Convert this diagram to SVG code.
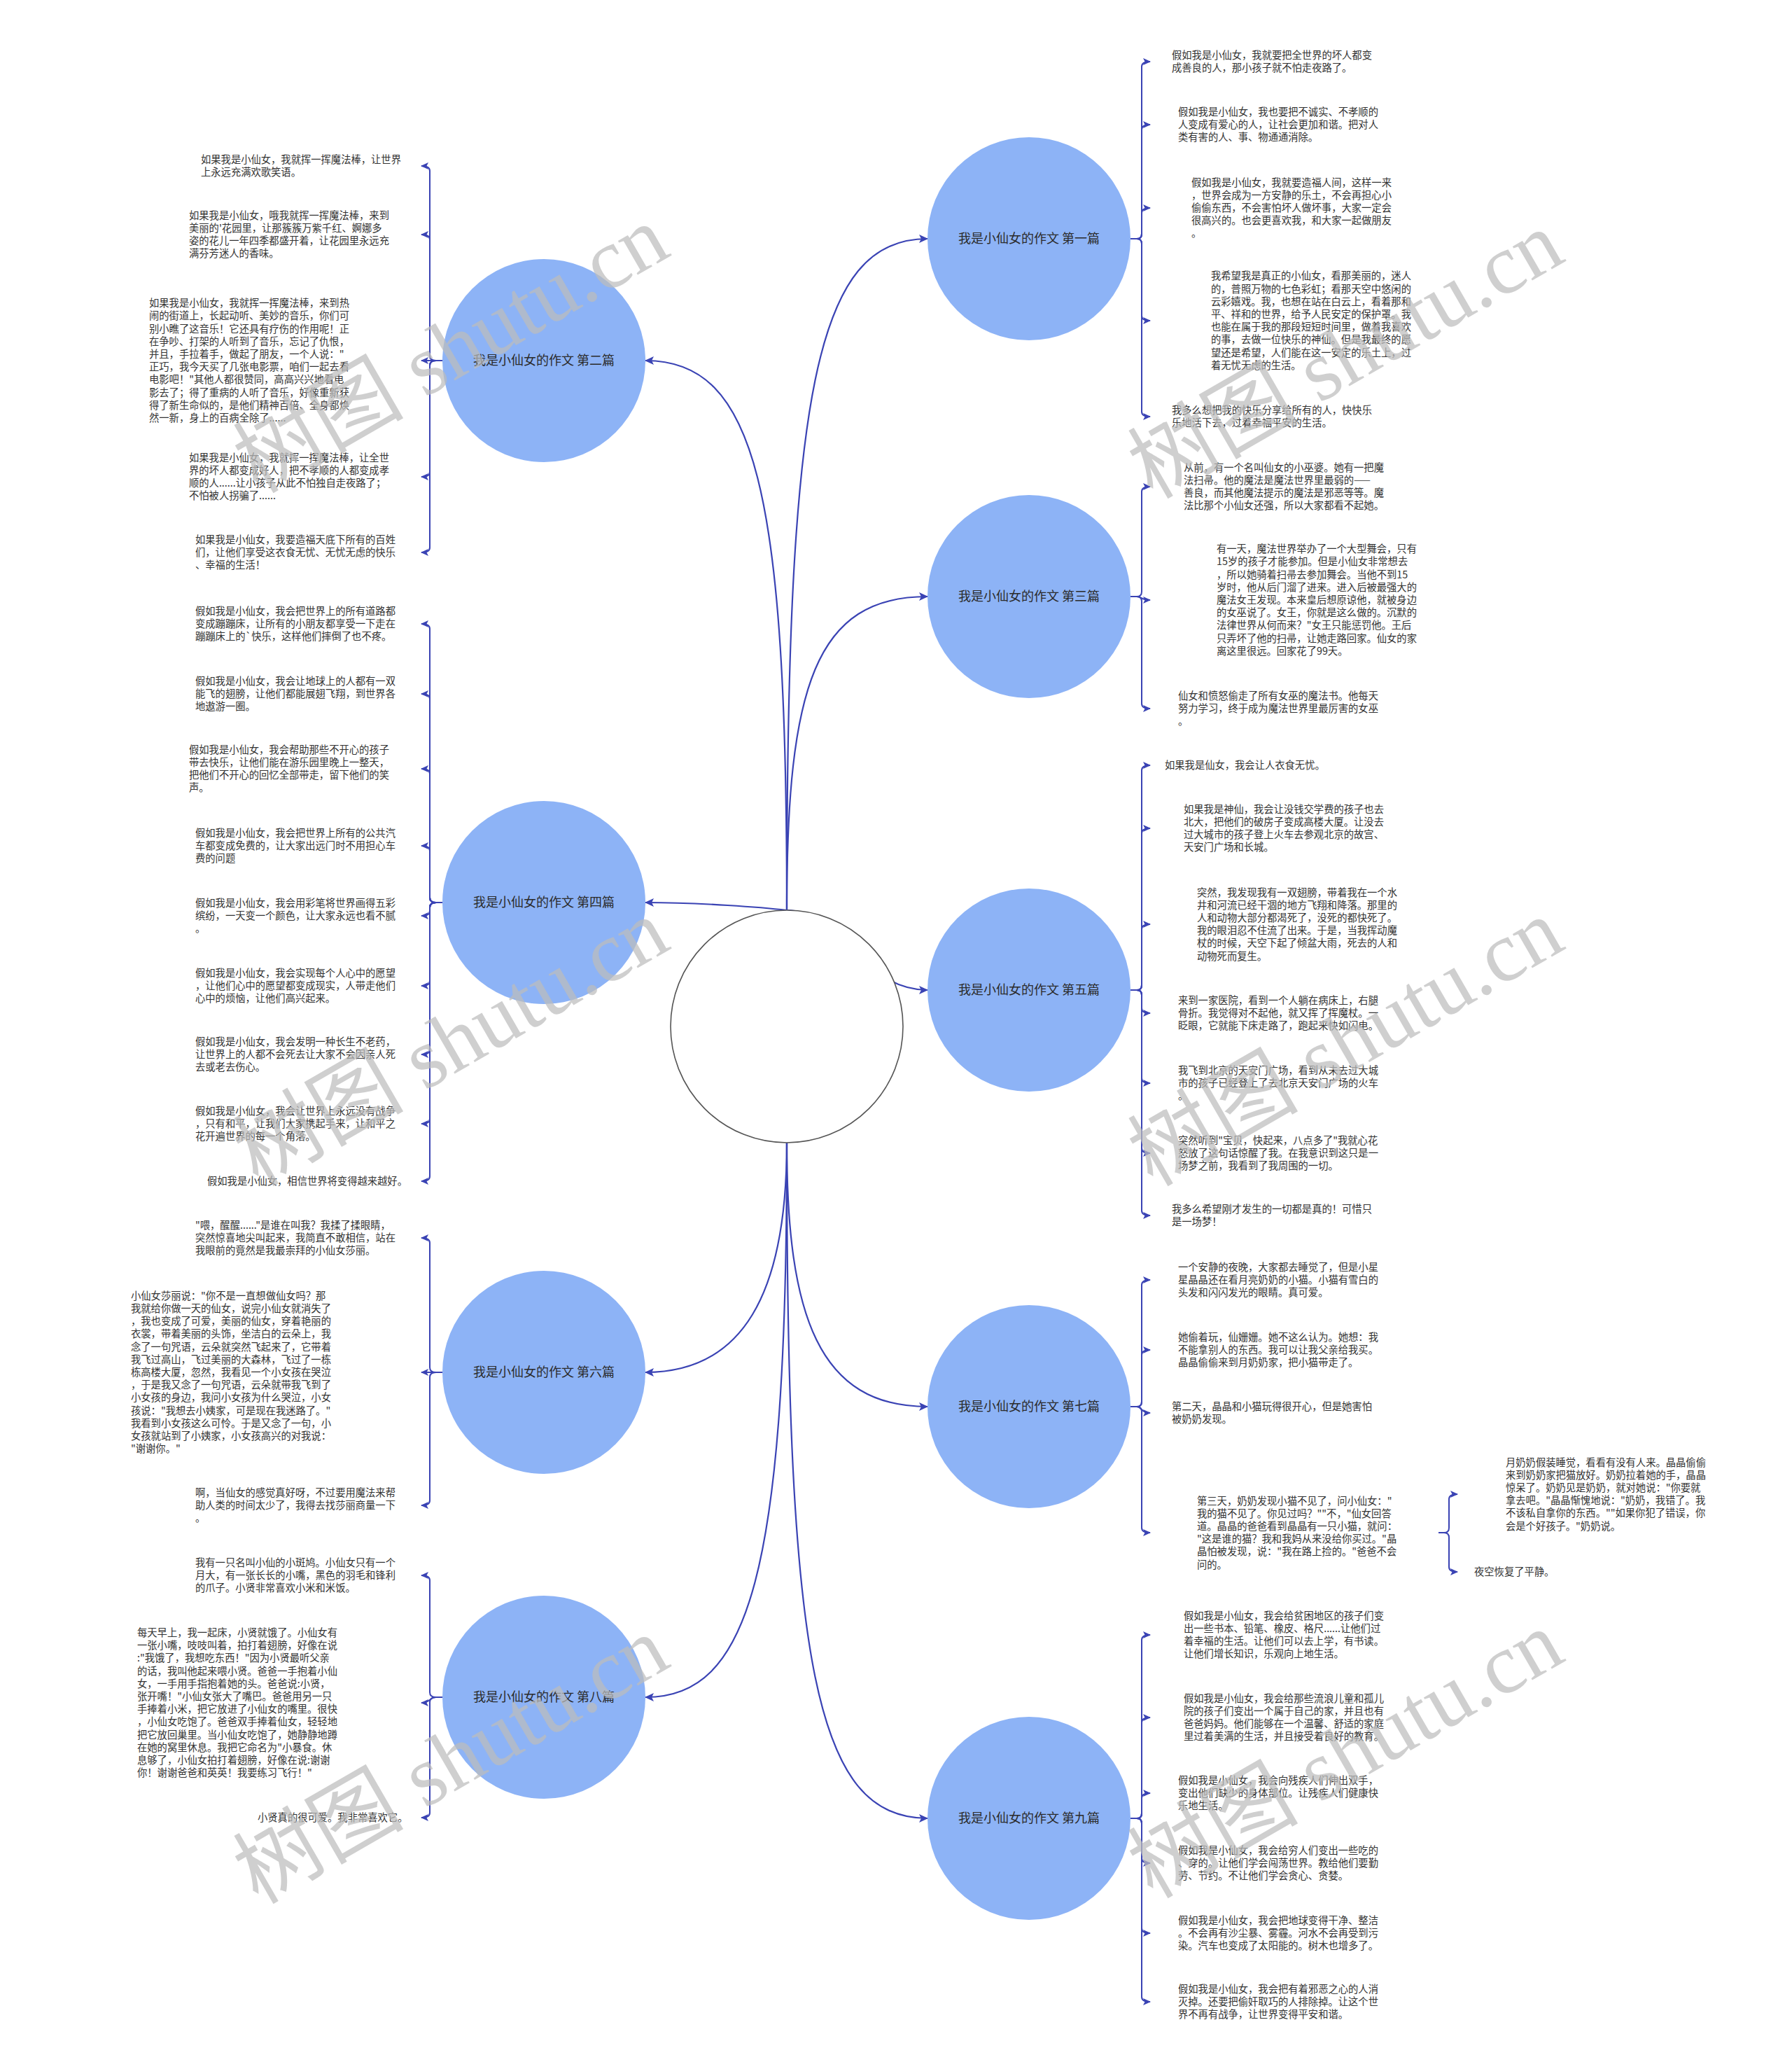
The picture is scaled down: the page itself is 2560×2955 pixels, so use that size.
<svg xmlns="http://www.w3.org/2000/svg" width="2560" height="2955" viewBox="0 0 2560 2955">
<defs>
<marker id="ah" markerUnits="userSpaceOnUse" markerWidth="14" markerHeight="12" refX="12" refY="6" orient="auto"><path d="M0,0 L13,6 L0,12 L3,6 z" fill="#3a43b4"/></marker>
<marker id="as" markerUnits="userSpaceOnUse" markerWidth="12" markerHeight="10" refX="10" refY="5" orient="auto"><path d="M0,0 L11,5 L0,10 L2.5,5 z" fill="#3a43b4"/></marker>
</defs>
<style>
.c{fill:none;stroke:#3a43b4;stroke-width:2.2;marker-end:url(#ah)}
.b{fill:none;stroke:#3a43b4;stroke-width:2;marker-end:url(#as)}
.n{fill:#8db3f6}
.nl{font-family:"Noto Sans CJK SC","Noto Sans",sans-serif;font-size:18px;fill:#2b2b2b;text-anchor:middle}
.t{font-family:"Noto Sans CJK SC","Noto Sans",sans-serif;font-size:14.3px;fill:#333}
.wm{font-family:"Liberation Serif","Noto Sans CJK SC",serif;font-size:122px;fill:#bdbdbd;opacity:0.72;text-anchor:middle}
</style>
<rect width="2560" height="2955" fill="#ffffff"/>
<g id="connectors">
<path class="c" d="M1124,1300 C1124,560 1165,341 1325,341"/>
<path class="c" d="M1124,1300 C1124,700 1080,515 922,515"/>
<path class="c" d="M1124,1300 C1124,980 1165,852 1325,852"/>
<path class="c" d="M1124,1300 C1090,1296 1000,1289 922,1289"/>
<path class="c" d="M1124,1300 C1200,1300 1230,1414 1325,1414"/>
<path class="c" d="M1124,1632 C1124,1850 1060,1960 922,1960"/>
<path class="c" d="M1124,1632 C1124,1880 1170,2009 1325,2009"/>
<path class="c" d="M1124,1632 C1124,2250 1070,2424 922,2424"/>
<path class="c" d="M1124,1632 C1124,2380 1165,2597 1325,2597"/>
<path class="b" d="M1615,341H1624Q1631,341 1631,334V95Q1631,88 1643,88"/>
<path class="b" d="M1615,341H1624Q1631,341 1631,334V185Q1631,178 1643,178"/>
<path class="b" d="M1615,341H1624Q1631,341 1631,334V304Q1631,297 1643,297"/>
<path class="b" d="M1615,341H1624Q1631,341 1631,348V451Q1631,458 1643,458"/>
<path class="b" d="M1615,341H1624Q1631,341 1631,348V588Q1631,595 1643,595"/>
<path class="b" d="M1615,852H1624Q1631,852 1631,845V702Q1631,695 1643,695"/>
<path class="b" d="M1615,852H1624C1631,852 1630,857 1643,857"/>
<path class="b" d="M1615,852H1624Q1631,852 1631,859V1005Q1631,1012 1643,1012"/>
<path class="b" d="M1615,1414H1624Q1631,1414 1631,1407V1100Q1631,1093 1643,1093"/>
<path class="b" d="M1615,1414H1624Q1631,1414 1631,1407V1190Q1631,1183 1643,1183"/>
<path class="b" d="M1615,1414H1624Q1631,1414 1631,1407V1327Q1631,1320 1643,1320"/>
<path class="b" d="M1615,1414H1624Q1631,1414 1631,1421V1440Q1631,1447 1643,1447"/>
<path class="b" d="M1615,1414H1624Q1631,1414 1631,1421V1540Q1631,1547 1643,1547"/>
<path class="b" d="M1615,1414H1624Q1631,1414 1631,1421V1640Q1631,1647 1643,1647"/>
<path class="b" d="M1615,1414H1624Q1631,1414 1631,1421V1729Q1631,1736 1643,1736"/>
<path class="b" d="M1615,2009H1624Q1631,2009 1631,2002V1835Q1631,1828 1643,1828"/>
<path class="b" d="M1615,2009H1624Q1631,2009 1631,2002V1935Q1631,1928 1643,1928"/>
<path class="b" d="M1615,2009H1624C1631,2009 1630,2018 1643,2018"/>
<path class="b" d="M1615,2009H1624Q1631,2009 1631,2016V2182Q1631,2189 1643,2189"/>
<path class="b" d="M2055,2189H2063Q2070,2189 2070,2182V2141Q2070,2134 2082,2134"/>
<path class="b" d="M2055,2189H2063Q2070,2189 2070,2196V2238Q2070,2245 2082,2245"/>
<path class="b" d="M1615,2597H1624Q1631,2597 1631,2590V2342Q1631,2335 1643,2335"/>
<path class="b" d="M1615,2597H1624Q1631,2597 1631,2590V2460Q1631,2453 1643,2453"/>
<path class="b" d="M1615,2597H1624Q1631,2597 1631,2590V2568Q1631,2561 1643,2561"/>
<path class="b" d="M1615,2597H1624Q1631,2597 1631,2604V2654Q1631,2661 1643,2661"/>
<path class="b" d="M1615,2597H1624Q1631,2597 1631,2604V2754Q1631,2761 1643,2761"/>
<path class="b" d="M1615,2597H1624Q1631,2597 1631,2604V2852Q1631,2859 1643,2859"/>
<path class="b" d="M632,515H623Q614,515 614,508V244Q614,237 602,237"/>
<path class="b" d="M632,515H623Q614,515 614,508V342Q614,335 602,335"/>
<path class="b" d="M632,515H602"/>
<path class="b" d="M632,515H623Q614,515 614,522V674Q614,681 602,681"/>
<path class="b" d="M632,515H623Q614,515 614,522V782Q614,789 602,789"/>
<path class="b" d="M632,1289H623Q614,1289 614,1282V898Q614,891 602,891"/>
<path class="b" d="M632,1289H623Q614,1289 614,1282V998Q614,991 602,991"/>
<path class="b" d="M632,1289H623Q614,1289 614,1282V1105Q614,1098 602,1098"/>
<path class="b" d="M632,1289H623Q614,1289 614,1282V1215Q614,1208 602,1208"/>
<path class="b" d="M632,1289H623Q614,1289 614,1296V1301Q614,1308 602,1308"/>
<path class="b" d="M632,1289H623Q614,1289 614,1296V1401Q614,1408 602,1408"/>
<path class="b" d="M632,1289H623Q614,1289 614,1296V1499Q614,1506 602,1506"/>
<path class="b" d="M632,1289H623Q614,1289 614,1296V1598Q614,1605 602,1605"/>
<path class="b" d="M632,1289H623Q614,1289 614,1296V1680Q614,1687 602,1687"/>
<path class="b" d="M632,1960H623Q614,1960 614,1953V1775Q614,1768 602,1768"/>
<path class="b" d="M632,1960H602"/>
<path class="b" d="M632,1960H623Q614,1960 614,1967V2143Q614,2150 602,2150"/>
<path class="b" d="M632,2424H623Q614,2424 614,2417V2257Q614,2250 602,2250"/>
<path class="b" d="M632,2424H622C614,2424 615,2432 602,2432"/>
<path class="b" d="M632,2424H623Q614,2424 614,2431V2589Q614,2596 602,2596"/>
</g>
<g id="center"><circle cx="1124" cy="1466" r="166" fill="#ffffff" stroke="#555555" stroke-width="1.6"/></g>
<g id="n1"><circle class="n" cx="1470" cy="341" r="145"/><text class="nl" x="1470" y="347">我是小仙女的作文 第一篇</text></g>
<g id="n2"><circle class="n" cx="777" cy="515" r="145"/><text class="nl" x="777" y="521">我是小仙女的作文 第二篇</text></g>
<g id="n3"><circle class="n" cx="1470" cy="852" r="145"/><text class="nl" x="1470" y="858">我是小仙女的作文 第三篇</text></g>
<g id="n4"><circle class="n" cx="777" cy="1289" r="145"/><text class="nl" x="777" y="1295">我是小仙女的作文 第四篇</text></g>
<g id="n5"><circle class="n" cx="1470" cy="1414" r="145"/><text class="nl" x="1470" y="1420">我是小仙女的作文 第五篇</text></g>
<g id="n6"><circle class="n" cx="777" cy="1960" r="145"/><text class="nl" x="777" y="1966">我是小仙女的作文 第六篇</text></g>
<g id="n7"><circle class="n" cx="1470" cy="2009" r="145"/><text class="nl" x="1470" y="2015">我是小仙女的作文 第七篇</text></g>
<g id="n8"><circle class="n" cx="777" cy="2424" r="145"/><text class="nl" x="777" y="2430">我是小仙女的作文 第八篇</text></g>
<g id="n9"><circle class="n" cx="1470" cy="2597" r="145"/><text class="nl" x="1470" y="2603">我是小仙女的作文 第九篇</text></g>
<g id="texts1">
<text class="t" y="83.9"><tspan x="1674">假如我是小仙女，我就要把全世界的坏人都变</tspan><tspan x="1674" dy="18.2">成善良的人，那小孩子就不怕走夜路了。</tspan></text>
<text class="t" y="164.8"><tspan x="1683">假如我是小仙女，我也要把不诚实、不孝顺的</tspan><tspan x="1683" dy="18.2">人变成有爱心的人，让社会更加和谐。把对人</tspan><tspan x="1683" dy="18.2">类有害的人、事、物通通消除。</tspan></text>
<text class="t" y="265.6"><tspan x="1702">假如我是小仙女，我就要造福人间，这样一来</tspan><tspan x="1702" dy="18.2">，世界会成为一方安静的乐土，不会再担心小</tspan><tspan x="1702" dy="18.2">偷偷东西，不会害怕坏人做坏事，大家一定会</tspan><tspan x="1702" dy="18.2">很高兴的。也会更喜欢我，和大家一起做朋友</tspan><tspan x="1702" dy="18.2">。</tspan></text>
<text class="t" y="399.3"><tspan x="1730">我希望我是真正的小仙女，看那美丽的，迷人</tspan><tspan x="1730" dy="18.2">的，普照万物的七色彩虹；看那天空中悠闲的</tspan><tspan x="1730" dy="18.2">云彩嬉戏。我，也想在站在白云上，看着那和</tspan><tspan x="1730" dy="18.2">平、祥和的世界，给予人民安定的保护罩。我</tspan><tspan x="1730" dy="18.2">也能在属于我的那段短短时间里，做着我喜欢</tspan><tspan x="1730" dy="18.2">的事，去做一位快乐的神仙。但是我最终的愿</tspan><tspan x="1730" dy="18.2">望还是希望，人们能在这一安定的乐土上，过</tspan><tspan x="1730" dy="18.2">着无忧无虑的生活。</tspan></text>
<text class="t" y="590.9"><tspan x="1674">我多么想把我的快乐分享给所有的人，快快乐</tspan><tspan x="1674" dy="18.2">乐地活下去，过着幸福平安的生活。</tspan></text>
</g>
<g id="texts3">
<text class="t" y="672.7"><tspan x="1691">从前，有一个名叫仙女的小巫婆。她有一把魔</tspan><tspan x="1691" dy="18.2">法扫帚。他的魔法是魔法世界里最弱的——</tspan><tspan x="1691" dy="18.2">善良，而其他魔法提示的魔法是邪恶等等。魔</tspan><tspan x="1691" dy="18.2">法比那个小仙女还强，所以大家都看不起她。</tspan></text>
<text class="t" y="789.2"><tspan x="1738">有一天，魔法世界举办了一个大型舞会，只有</tspan><tspan x="1738" dy="18.2">15岁的孩子才能参加。但是小仙女非常想去</tspan><tspan x="1738" dy="18.2">，所以她骑着扫帚去参加舞会。当他不到15</tspan><tspan x="1738" dy="18.2">岁时，他从后门溜了进来。进入后被最强大的</tspan><tspan x="1738" dy="18.2">魔法女王发现。本来皇后想原谅他，就被身边</tspan><tspan x="1738" dy="18.2">的女巫说了。女王，你就是这么做的。沉默的</tspan><tspan x="1738" dy="18.2">法律世界从何而来？"女王只能惩罚他。王后</tspan><tspan x="1738" dy="18.2">只弄坏了他的扫帚，让她走路回家。仙女的家</tspan><tspan x="1738" dy="18.2">离这里很远。回家花了99天。</tspan></text>
<text class="t" y="998.8"><tspan x="1683">仙女和愤怒偷走了所有女巫的魔法书。他每天</tspan><tspan x="1683" dy="18.2">努力学习，终于成为魔法世界里最厉害的女巫</tspan><tspan x="1683" dy="18.2">。</tspan></text>
</g>
<g id="texts5">
<text class="t" x="1664" y="1098">如果我是仙女，我会让人衣食无忧。</text>
<text class="t" y="1160.7"><tspan x="1691">如果我是神仙，我会让没钱交学费的孩子也去</tspan><tspan x="1691" dy="18.2">北大，把他们的破房子变成高楼大厦。让没去</tspan><tspan x="1691" dy="18.2">过大城市的孩子登上火车去参观北京的故宫、</tspan><tspan x="1691" dy="18.2">天安门广场和长城。</tspan></text>
<text class="t" y="1279.5"><tspan x="1710">突然，我发现我有一双翅膀，带着我在一个水</tspan><tspan x="1710" dy="18.2">井和河流已经干涸的地方飞翔和降落。那里的</tspan><tspan x="1710" dy="18.2">人和动物大部分都渴死了，没死的都快死了。</tspan><tspan x="1710" dy="18.2">我的眼泪忍不住流了出来。于是，当我挥动魔</tspan><tspan x="1710" dy="18.2">杖的时候，天空下起了倾盆大雨，死去的人和</tspan><tspan x="1710" dy="18.2">动物死而复生。</tspan></text>
<text class="t" y="1433.8"><tspan x="1683">来到一家医院，看到一个人躺在病床上，右腿</tspan><tspan x="1683" dy="18.2">骨折。我觉得对不起他，就又挥了挥魔杖。一</tspan><tspan x="1683" dy="18.2">眨眼，它就能下床走路了，跑起来快如闪电。</tspan></text>
<text class="t" y="1533.8"><tspan x="1683">我飞到北京的天安门广场，看到从未去过大城</tspan><tspan x="1683" dy="18.2">市的孩子已经登上了去北京天安门广场的火车</tspan><tspan x="1683" dy="18.2">。</tspan></text>
<text class="t" y="1633.8"><tspan x="1683">突然听到"宝贝，快起来，八点多了"我就心花</tspan><tspan x="1683" dy="18.2">怒放了这句话惊醒了我。在我意识到这只是一</tspan><tspan x="1683" dy="18.2">场梦之前，我看到了我周围的一切。</tspan></text>
<text class="t" y="1731.9"><tspan x="1674">我多么希望刚才发生的一切都是真的！可惜只</tspan><tspan x="1674" dy="18.2">是一场梦！</tspan></text>
</g>
<g id="texts7">
<text class="t" y="1814.8"><tspan x="1683">一个安静的夜晚，大家都去睡觉了，但是小星</tspan><tspan x="1683" dy="18.2">星晶晶还在看月亮奶奶的小猫。小猫有雪白的</tspan><tspan x="1683" dy="18.2">头发和闪闪发光的眼睛。真可爱。</tspan></text>
<text class="t" y="1914.8"><tspan x="1683">她偷着玩，仙姗姗。她不这么认为。她想：我</tspan><tspan x="1683" dy="18.2">不能拿别人的东西。我可以让我父亲给我买。</tspan><tspan x="1683" dy="18.2">晶晶偷偷来到月奶奶家，把小猫带走了。</tspan></text>
<text class="t" y="2013.9"><tspan x="1674">第二天，晶晶和小猫玩得很开心，但是她害怕</tspan><tspan x="1674" dy="18.2">被奶奶发现。</tspan></text>
<text class="t" y="2148.5"><tspan x="1710">第三天，奶奶发现小猫不见了，问小仙女："</tspan><tspan x="1710" dy="18.2">我的猫不见了。你见过吗？""不，"仙女回答</tspan><tspan x="1710" dy="18.2">道。晶晶的爸爸看到晶晶有一只小猫，就问：</tspan><tspan x="1710" dy="18.2">"这是谁的猫？我和我妈从来没给你买过。"晶</tspan><tspan x="1710" dy="18.2">晶怕被发现，说："我在路上捡的。"爸爸不会</tspan><tspan x="1710" dy="18.2">问的。</tspan></text>
<text class="t" y="2093.5"><tspan x="2151">月奶奶假装睡觉，看看有没有人来。晶晶偷偷</tspan><tspan x="2151" dy="18.2">来到奶奶家把猫放好。奶奶拉着她的手，晶晶</tspan><tspan x="2151" dy="18.2">惊呆了。奶奶见是奶奶，就对她说："你要就</tspan><tspan x="2151" dy="18.2">拿去吧。"晶晶惭愧地说："奶奶，我错了。我</tspan><tspan x="2151" dy="18.2">不该私自拿你的东西。""如果你犯了错误，你</tspan><tspan x="2151" dy="18.2">会是个好孩子。"奶奶说。</tspan></text>
<text class="t" x="2106" y="2250">夜空恢复了平静。</text>
</g>
<g id="texts9">
<text class="t" y="2312.7"><tspan x="1691">假如我是小仙女，我会给贫困地区的孩子们变</tspan><tspan x="1691" dy="18.2">出一些书本、铅笔、橡皮、格尺......让他们过</tspan><tspan x="1691" dy="18.2">着幸福的生活。让他们可以去上学，有书读。</tspan><tspan x="1691" dy="18.2">让他们增长知识，乐观向上地生活。</tspan></text>
<text class="t" y="2430.7"><tspan x="1691">假如我是小仙女，我会给那些流浪儿童和孤儿</tspan><tspan x="1691" dy="18.2">院的孩子们变出一个属于自己的家，并且也有</tspan><tspan x="1691" dy="18.2">爸爸妈妈。他们能够在一个温馨、舒适的家庭</tspan><tspan x="1691" dy="18.2">里过着美满的生活，并且接受着良好的教育。</tspan></text>
<text class="t" y="2547.8"><tspan x="1683">假如我是小仙女，我会向残疾人们伸出双手，</tspan><tspan x="1683" dy="18.2">变出他们缺少的身体部位。让残疾人们健康快</tspan><tspan x="1683" dy="18.2">乐地生活。</tspan></text>
<text class="t" y="2647.8"><tspan x="1683">假如我是小仙女，我会给穷人们变出一些吃的</tspan><tspan x="1683" dy="18.2">、穿的。让他们学会闯荡世界。教给他们要勤</tspan><tspan x="1683" dy="18.2">劳、节约。不让他们学会贪心、贪婪。</tspan></text>
<text class="t" y="2747.8"><tspan x="1683">假如我是小仙女，我会把地球变得干净、整洁</tspan><tspan x="1683" dy="18.2">。不会再有沙尘暴、雾霾。河水不会再受到污</tspan><tspan x="1683" dy="18.2">染。汽车也变成了太阳能的。树木也增多了。</tspan></text>
<text class="t" y="2845.8"><tspan x="1683">假如我是小仙女，我会把有着邪恶之心的人消</tspan><tspan x="1683" dy="18.2">灭掉。还要把偷奸取巧的人排除掉。让这个世</tspan><tspan x="1683" dy="18.2">界不再有战争，让世界变得平安和谐。</tspan></text>
</g>
<g id="texts2">
<text class="t" y="232.9"><tspan x="287">如果我是小仙女，我就挥一挥魔法棒，让世界</tspan><tspan x="287" dy="18.2">上永远充满欢歌笑语。</tspan></text>
<text class="t" y="312.7"><tspan x="270">如果我是小仙女，哦我就挥一挥魔法棒，来到</tspan><tspan x="270" dy="18.2">美丽的'花园里，让那簇簇万紫千红、婀娜多</tspan><tspan x="270" dy="18.2">姿的花儿一年四季都盛开着，让花园里永远充</tspan><tspan x="270" dy="18.2">满芬芳迷人的香味。</tspan></text>
<text class="t" y="438.1"><tspan x="213">如果我是小仙女，我就挥一挥魔法棒，来到热</tspan><tspan x="213" dy="18.2">闹的街道上，长起动听、美妙的音乐，你们可</tspan><tspan x="213" dy="18.2">别小瞧了这音乐！它还具有疗伤的作用呢！正</tspan><tspan x="213" dy="18.2">在争吵、打架的人听到了音乐，忘记了仇恨，</tspan><tspan x="213" dy="18.2">并且，手拉着手，做起了朋友，一个人说："</tspan><tspan x="213" dy="18.2">正巧，我今天买了几张电影票，咱们一起去看</tspan><tspan x="213" dy="18.2">电影吧！"其他人都很赞同，高高兴兴地看电</tspan><tspan x="213" dy="18.2">影去了；得了重病的人听了音乐，好像重新获</tspan><tspan x="213" dy="18.2">得了新生命似的，是他们精神百倍、全身都焕</tspan><tspan x="213" dy="18.2">然一新，身上的百病全除了......</tspan></text>
<text class="t" y="658.7"><tspan x="270">如果我是小仙女，我就挥一挥魔法棒，让全世</tspan><tspan x="270" dy="18.2">界的坏人都变成好人，把不孝顺的人都变成孝</tspan><tspan x="270" dy="18.2">顺的人......让小孩子从此不怕独自走夜路了；</tspan><tspan x="270" dy="18.2">不怕被人拐骗了......</tspan></text>
<text class="t" y="775.8"><tspan x="279">如果我是小仙女，我要造福天底下所有的百姓</tspan><tspan x="279" dy="18.2">们，让他们享受这衣食无忧、无忧无虑的快乐</tspan><tspan x="279" dy="18.2">、幸福的生活！</tspan></text>
</g>
<g id="texts4">
<text class="t" y="877.8"><tspan x="279">假如我是小仙女，我会把世界上的所有道路都</tspan><tspan x="279" dy="18.2">变成蹦蹦床，让所有的小朋友都享受一下走在</tspan><tspan x="279" dy="18.2">蹦蹦床上的`快乐，这样他们摔倒了也不疼。</tspan></text>
<text class="t" y="977.8"><tspan x="279">假如我是小仙女，我会让地球上的人都有一双</tspan><tspan x="279" dy="18.2">能飞的翅膀，让他们都能展翅飞翔，到世界各</tspan><tspan x="279" dy="18.2">地遨游一圈。</tspan></text>
<text class="t" y="1075.7"><tspan x="270">假如我是小仙女，我会帮助那些不开心的孩子</tspan><tspan x="270" dy="18.2">带去快乐，让他们能在游乐园里晚上一整天，</tspan><tspan x="270" dy="18.2">把他们不开心的回忆全部带走，留下他们的笑</tspan><tspan x="270" dy="18.2">声。</tspan></text>
<text class="t" y="1194.8"><tspan x="279">假如我是小仙女，我会把世界上所有的公共汽</tspan><tspan x="279" dy="18.2">车都变成免费的，让大家出远门时不用担心车</tspan><tspan x="279" dy="18.2">费的问题</tspan></text>
<text class="t" y="1294.8"><tspan x="279">假如我是小仙女，我会用彩笔将世界画得五彩</tspan><tspan x="279" dy="18.2">缤纷，一天变一个颜色，让大家永远也看不腻</tspan><tspan x="279" dy="18.2">。</tspan></text>
<text class="t" y="1394.8"><tspan x="279">假如我是小仙女，我会实现每个人心中的愿望</tspan><tspan x="279" dy="18.2">，让他们心中的愿望都变成现实，人带走他们</tspan><tspan x="279" dy="18.2">心中的烦恼，让他们高兴起来。</tspan></text>
<text class="t" y="1492.8"><tspan x="279">假如我是小仙女，我会发明一种长生不老药，</tspan><tspan x="279" dy="18.2">让世界上的人都不会死去让大家不会因亲人死</tspan><tspan x="279" dy="18.2">去或老去伤心。</tspan></text>
<text class="t" y="1591.8"><tspan x="279">假如我是小仙女，我会让世界上永远没有战争</tspan><tspan x="279" dy="18.2">，只有和平，让我们大家携起手来，让和平之</tspan><tspan x="279" dy="18.2">花开遍世界的每一个角落。</tspan></text>
<text class="t" x="296" y="1692">假如我是小仙女，相信世界将变得越来越好。</text>
</g>
<g id="texts6">
<text class="t" y="1754.8"><tspan x="279">"喂，醒醒......"是谁在叫我？我揉了揉眼睛，</tspan><tspan x="279" dy="18.2">突然惊喜地尖叫起来，我简直不敢相信，站在</tspan><tspan x="279" dy="18.2">我眼前的竟然是我最崇拜的小仙女莎丽。</tspan></text>
<text class="t" y="1855.8"><tspan x="187">小仙女莎丽说："你不是一直想做仙女吗？那</tspan><tspan x="187" dy="18.2">我就给你做一天的仙女，说完小仙女就消失了</tspan><tspan x="187" dy="18.2">，我也变成了可爱，美丽的仙女，穿着艳丽的</tspan><tspan x="187" dy="18.2">衣裳，带着美丽的头饰，坐洁白的云朵上，我</tspan><tspan x="187" dy="18.2">念了一句咒语，云朵就突然飞起来了，它带着</tspan><tspan x="187" dy="18.2">我飞过高山，飞过美丽的大森林，飞过了一栋</tspan><tspan x="187" dy="18.2">栋高楼大厦，忽然，我看见一个小女孩在哭泣</tspan><tspan x="187" dy="18.2">，于是我又念了一句咒语，云朵就带我飞到了</tspan><tspan x="187" dy="18.2">小女孩的身边，我问小女孩为什么哭泣，小女</tspan><tspan x="187" dy="18.2">孩说："我想去小姨家，可是现在我迷路了。"</tspan><tspan x="187" dy="18.2">我看到小女孩这么可怜。于是又念了一句，小</tspan><tspan x="187" dy="18.2">女孩就站到了小姨家，小女孩高兴的对我说：</tspan><tspan x="187" dy="18.2">"谢谢你。"</tspan></text>
<text class="t" y="2136.8"><tspan x="279">啊，当仙女的感觉真好呀，不过要用魔法来帮</tspan><tspan x="279" dy="18.2">助人类的时间太少了，我得去找莎丽商量一下</tspan><tspan x="279" dy="18.2">。</tspan></text>
</g>
<g id="texts8">
<text class="t" y="2236.8"><tspan x="279">我有一只名叫小仙的小斑鸠。小仙女只有一个</tspan><tspan x="279" dy="18.2">月大，有一张长长的小嘴，黑色的羽毛和锋利</tspan><tspan x="279" dy="18.2">的爪子。小贤非常喜欢小米和米饭。</tspan></text>
<text class="t" y="2336.9"><tspan x="196">每天早上，我一起床，小贤就饿了。小仙女有</tspan><tspan x="196" dy="18.2">一张小嘴，吱吱叫着，拍打着翅膀，好像在说</tspan><tspan x="196" dy="18.2">:"我饿了，我想吃东西！"因为小贤最听父亲</tspan><tspan x="196" dy="18.2">的话，我叫他起来喂小贤。爸爸一手抱着小仙</tspan><tspan x="196" dy="18.2">女，一手用手指抱着她的头。爸爸说:小贤，</tspan><tspan x="196" dy="18.2">张开嘴！"小仙女张大了嘴巴。爸爸用另一只</tspan><tspan x="196" dy="18.2">手捧着小米，把它放进了小仙女的嘴里。很快</tspan><tspan x="196" dy="18.2">，小仙女吃饱了。爸爸双手捧着仙女，轻轻地</tspan><tspan x="196" dy="18.2">把它放回巢里。当小仙女吃饱了，她静静地蹲</tspan><tspan x="196" dy="18.2">在她的窝里休息。我把它命名为"小暴食。休</tspan><tspan x="196" dy="18.2">息够了，小仙女拍打着翅膀，好像在说:谢谢</tspan><tspan x="196" dy="18.2">你！谢谢爸爸和英英！我要练习飞行！"</tspan></text>
<text class="t" x="368" y="2601">小贤真的很可爱。我非常喜欢它。</text>
</g>
<g id="watermarks">
<text class="wm" x="645" y="540" transform="rotate(-30 645 500)">树图 shutu.cn</text>
<text class="wm" x="645" y="1530" transform="rotate(-30 645 1490)">树图 shutu.cn</text>
<text class="wm" x="645" y="2555" transform="rotate(-30 645 2515)">树图 shutu.cn</text>
<text class="wm" x="1923" y="548" transform="rotate(-30 1923 508)">树图 shutu.cn</text>
<text class="wm" x="1923" y="1530" transform="rotate(-30 1923 1490)">树图 shutu.cn</text>
<text class="wm" x="1923" y="2547" transform="rotate(-30 1923 2507)">树图 shutu.cn</text>
</g>
</svg>
